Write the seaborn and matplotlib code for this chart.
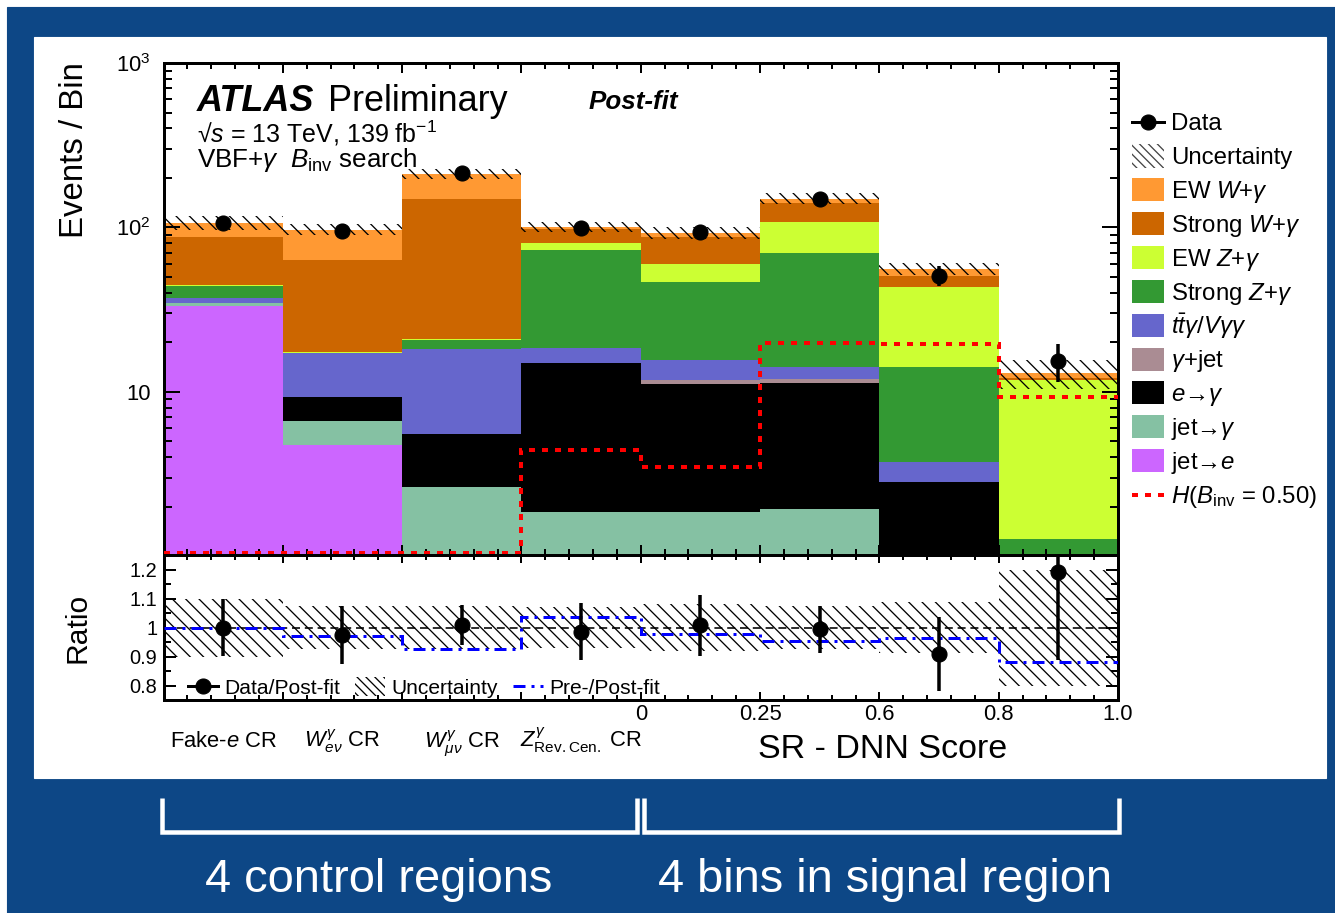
import numpy as np
import pandas as pd
import seaborn as sns
import matplotlib
matplotlib.use("Agg")
import matplotlib.pyplot as plt
from matplotlib.patches import Rectangle, Patch
from matplotlib.lines import Line2D
from matplotlib.ticker import (FixedLocator, FixedFormatter, MultipleLocator,
                               LogLocator, NullFormatter)
from matplotlib.transforms import blended_transform_factory

# ---------------------------------------------------------------- data
region_labels = ["Fake-$e$ CR", r"$W^{\gamma}_{e\nu}$ CR",
                 r"$W^{\gamma}_{\mu\nu}$ CR", r"$Z^{\gamma}_{\mathrm{Rev.Cen.}}$ CR"]
sr_edge_labels = ["0", "0.25", "0.6", "0.8", "1.0"]

# post-fit yields per bin (4 control regions + 4 DNN-score bins)
jet_to_e     = [33.3, 4.73, 0.0, 0.0, 0.0, 0.0, 0.0, 0.0]
jet_to_gamma = [1.5, 1.91, 2.66, 1.87, 1.87, 1.93, 0.0, 0.15]
e_to_gamma   = [0.0, 2.69, 2.9, 13.23, 9.23, 9.47, 2.84, 0.4]
gamma_jet    = [0.0, 0.0, 0.0, 0.0, 0.7, 0.6, 0.0, 0.0]
ttgamma_vgg  = [2.5, 7.87, 12.64, 3.4, 3.8, 2.1, 0.93, 0.1]
strong_z     = [6.7, 0.1, 2.4, 54.1, 30.8, 55.4, 10.43, 0.62]
ew_z         = [0.4, 0.2, 0.4, 7.4, 13.6, 38.5, 29.0, 10.53]
strong_w     = [43.6, 45.5, 129.0, 18.5, 27.0, 32.0, 7.3, 0.3]
ew_w         = [19.0, 34.0, 62.0, 1.9, 6.0, 10.0, 5.5, 0.9]

data_counts  = [107.0, 94.6, 213.5, 99.0, 93.7, 149.0, 50.9, 15.5]
rel_unc      = [0.10, 0.075, 0.075, 0.07, 0.08, 0.075, 0.087, 0.20]
prefit_ratio = [1.0, 0.972, 0.926, 1.036, 0.978, 0.955, 0.964, 0.88]
signal       = [1.05, 1.05, 1.05, 4.44, 3.48, 19.9, 19.5, 9.37]

# legend order = stacking order from top to bottom
process_labels = [r"EW $W{+}\gamma$", r"Strong $W{+}\gamma$", r"EW $Z{+}\gamma$",
                  r"Strong $Z{+}\gamma$", r"$t\bar{t}\gamma/V\gamma\gamma$",
                  r"$\gamma$+jet", r"$e$→$\gamma$", r"jet→$\gamma$", r"jet→$e$"]
process_yields = [ew_w, strong_w, ew_z, strong_z, ttgamma_vgg, gamma_jet,
                  e_to_gamma, jet_to_gamma, jet_to_e]
process_colors = ["#ff9933", "#cc6600", "#ccff33", "#339933", "#6666cc",
                  "#aa8c93", "#000000", "#85c1a3", "#cc66ff"]

# ---------------------------------------------------------------- style
DPI = 80
W, H = 1335, 913
PT = 72.0 / DPI            # points per pixel
BLUE = "#0d4786"

plt.rcParams["font.family"] = ["Liberation Sans", "DejaVu Sans"]
plt.rcParams["mathtext.fontset"] = "custom"
plt.rcParams["mathtext.rm"] = "Liberation Sans"
plt.rcParams["mathtext.it"] = "Liberation Sans:italic"
plt.rcParams["mathtext.bf"] = "Liberation Sans:bold"
plt.rcParams["mathtext.sf"] = "Liberation Sans"
plt.rcParams["mathtext.fallback"] = "stixsans"
plt.rcParams["hatch.linewidth"] = 1.3 * PT


def fx(x):
    return x / W


def fy(y):
    return 1.0 - y / H


nbins = len(data_counts)
edges = np.arange(nbins + 1, dtype=float)
centers = edges[:-1] + 0.5
total = np.sum(np.array(process_yields), axis=0)
data = np.array(data_counts)
unc = np.array(rel_unc)

fig = plt.figure(figsize=(W / DPI, H / DPI), dpi=DPI)
fig.patch.set_facecolor("white")

# slide frame
fig.add_artist(Rectangle((fx(7), 0), 1 - fx(7), fy(7), transform=fig.transFigure,
                         color=BLUE, zorder=-20))
fig.add_artist(Rectangle((fx(34), fy(778)), (1326 - 34) / W, (778 - 37) / H,
                         transform=fig.transFigure, color="white", zorder=-10))

x0, x1 = 163.5, 1118
ax = fig.add_axes([fx(x0), fy(555), (x1 - x0) / W, (555 - 63) / H])
axr = fig.add_axes([fx(x0), fy(700), (x1 - x0) / W, (700 - 555) / H])

# ---------------------------------------------------------------- main panel
df = pd.DataFrame({
    "bin": np.tile(centers, len(process_labels)),
    "process": np.repeat(process_labels, nbins),
    "events": np.concatenate(process_yields),
})
sns.histplot(data=df, x="bin", weights="events", hue="process",
             hue_order=process_labels, palette=dict(zip(process_labels, process_colors)),
             multiple="stack", bins=edges.tolist(), alpha=1, linewidth=0,
             edgecolor="none", legend=False, ax=ax)

ax.bar(centers, 2 * unc * total, bottom=total * (1 - unc), width=1.0,
       facecolor="none", edgecolor="black", hatch="\\\\", linewidth=0, zorder=3)
ax.stairs(signal, edges, baseline=None, color="#ff0000", lw=4 * PT,
          linestyle=(0, (1.5, 1.75)), zorder=4)
ax.errorbar(centers, data, yerr=np.sqrt(data), fmt="o", color="black",
            ms=15 * PT, elinewidth=3.5 * PT, capsize=0, zorder=5)

ax.set_yscale("log")
ax.set_xlim(0, nbins)
ax.set_ylim(1.02, 1000)
ax.set_xlabel("")
ax.set_ylabel("")
ax.yaxis.set_major_locator(FixedLocator([10, 100, 1000]))
ax.yaxis.set_major_formatter(FixedFormatter(["10", "$10^2$", "$10^3$"]))
ax.yaxis.set_minor_locator(LogLocator(base=10, subs=np.arange(2, 10)))
ax.yaxis.set_minor_formatter(NullFormatter())

# ---------------------------------------------------------------- ratio panel
ratio = data / total
axr.bar(centers, 2 * unc, bottom=1 - unc, width=1.0, facecolor="none",
        edgecolor="black", hatch="\\\\", linewidth=0, zorder=2)
axr.axhline(1.0, color="black", lw=1.6 * PT, ls=(0, (5, 3)), zorder=3)
axr.stairs(prefit_ratio, edges, baseline=None, color="#0000ff", lw=3 * PT,
           linestyle=(0, (4, 2, 1, 2)), zorder=4)
axr.errorbar(centers, ratio, yerr=np.sqrt(data) / total, fmt="o", color="black",
             ms=15 * PT, elinewidth=3.5 * PT, capsize=0, zorder=5)
axr.set_xlim(0, nbins)
axr.set_ylim(0.75, 1.25)
axr.yaxis.set_major_locator(FixedLocator([0.8, 0.9, 1.0, 1.1, 1.2]))
axr.yaxis.set_major_formatter(FixedFormatter(["0.8", "0.9", "1", "1.1", "1.2"]))
axr.yaxis.set_minor_locator(MultipleLocator(0.05))

for a in (ax, axr):
    a.xaxis.set_major_locator(FixedLocator(edges))
    a.xaxis.set_minor_locator(MultipleLocator(0.2))
    a.tick_params(which="both", direction="in", top=True, right=True,
                  width=2 * PT, color="black")
    for s in a.spines.values():
        s.set_linewidth(3 * PT)
ax.tick_params(axis="x", which="major", length=10 * PT, labelbottom=False)
ax.tick_params(axis="x", which="minor", length=6 * PT)
ax.tick_params(axis="y", which="major", length=16 * PT, labelsize=22 * PT, pad=13 * PT)
ax.tick_params(axis="y", which="minor", length=8 * PT)
axr.tick_params(axis="x", which="major", length=8 * PT, labelsize=22 * PT, pad=4 * PT)
axr.tick_params(axis="x", which="minor", length=5 * PT)
axr.tick_params(axis="y", which="major", length=12 * PT, labelsize=20 * PT, pad=6 * PT)
axr.tick_params(axis="y", which="minor", length=7 * PT)
axr.xaxis.set_major_formatter(FixedFormatter([""] * 4 + sr_edge_labels))

rleg = [Line2D([], [], color="black", marker="o", ms=15 * PT, lw=3 * PT),
        Patch(facecolor="none", edgecolor="black", hatch="\\\\\\", lw=0),
        Line2D([], [], color="#0000ff", lw=3 * PT, ls=(0, (4, 2, 1, 2)))]
axr.legend(rleg, ["Data/Post-fit", "Uncertainty", "Pre-/Post-fit"], ncol=3,
           loc="lower left", bbox_to_anchor=((186 - x0) / (x1 - x0), 0.0),
           frameon=False, fontsize=21 * PT, handlelength=1.4, handleheight=1.0,
           handletextpad=0.3, columnspacing=0.75, borderpad=0.1, borderaxespad=0)

# region labels under the control-region bins
btr = blended_transform_factory(axr.transData, fig.transFigure)
for c, lab in zip(centers[:4], region_labels):
    axr.text(c, fy(747), lab, transform=btr, ha="center", va="baseline",
             fontsize=22 * PT)
fig.text(fx(883), fy(758), "SR - DNN Score", ha="center", va="baseline",
         fontsize=34 * PT)

# axis titles
fig.text(fx(83), fy(62), "Events / Bin", rotation=90, rotation_mode="anchor",
         ha="right", va="baseline", fontsize=33 * PT)
fig.text(fx(85), fy(593), "Ratio", rotation=90, rotation_mode="anchor",
         ha="right", va="baseline", fontsize=30 * PT)

# experiment labels
fig.text(fx(197), fy(111), "ATLAS", fontsize=36 * PT, fontweight="bold",
         fontstyle="italic", va="baseline")
fig.text(fx(328), fy(111), "Preliminary", fontsize=36 * PT, va="baseline")
fig.text(fx(197), fy(143), r"√$s$ = 13 TeV, 139 fb$^{-1}$", fontsize=25 * PT,
         va="baseline")
fig.text(fx(197), fy(167), r"VBF+$\gamma$  $B_{\mathrm{inv}}$ search", fontsize=26 * PT,
         va="baseline")
fig.text(fx(589), fy(109), "Post-fit", fontsize=26 * PT, fontweight="bold",
         fontstyle="italic", va="baseline")

# legend beside the main panel
row0, dy = 121.7, 33.9
hx0, hx1 = 1131.5, 1164
leg_font = 24 * PT
rows = ["Data", "Uncertainty"] + process_labels + [r"$H(B_{\mathrm{inv}}$ = 0.50)"]
for i, lab in enumerate(rows):
    yc = row0 + i * dy
    if i == 0:
        fig.add_artist(Line2D([fx(hx0), fx(hx1)], [fy(yc), fy(yc)],
                              transform=fig.transFigure, color="black", lw=3 * PT,
                              zorder=5))
        fig.add_artist(Line2D([fx((hx0 + hx1) / 2)], [fy(yc)], transform=fig.transFigure,
                              color="black", marker="o", ms=15 * PT, lw=0, zorder=5))
    elif i == 1:
        fig.add_artist(Rectangle((fx(hx0), fy(yc + 12)), (hx1 - hx0) / W, 24 / H,
                                 transform=fig.transFigure, facecolor="none",
                                 edgecolor="#444444", hatch="\\\\\\", lw=0, zorder=5))
    elif i == len(rows) - 1:
        fig.add_artist(Line2D([fx(hx0), fx(hx1)], [fy(yc), fy(yc)],
                              transform=fig.transFigure, color="#ff0000", lw=4 * PT,
                              ls=(0, (1.5, 1.75)), zorder=5))
    else:
        fig.add_artist(Rectangle((fx(hx0), fy(yc + 11.5)), (hx1 - hx0) / W, 23 / H,
                                 transform=fig.transFigure,
                                 color=process_colors[i - 2], lw=0, zorder=5))
    fig.text(fx(1171), fy(yc + 8.5), lab, fontsize=leg_font, va="baseline")

# region brackets and captions on the slide
for xa, xb in ((162, 637), (644, 1119)):
    fig.add_artist(Line2D([fx(xa), fx(xa), fx(xb), fx(xb)],
                          [fy(798), fy(831.5), fy(831.5), fy(798)],
                          transform=fig.transFigure, color="white", lw=4.5 * PT,
                          solid_joinstyle="miter", solid_capstyle="butt"))
fig.text(fx(379), fy(892), "4 control regions", color="white", fontsize=47 * PT,
         ha="center", va="baseline")
fig.text(fx(885), fy(892), "4 bins in signal region", color="white", fontsize=47 * PT,
         ha="center", va="baseline")

fig.savefig("out.png", dpi=DPI)
